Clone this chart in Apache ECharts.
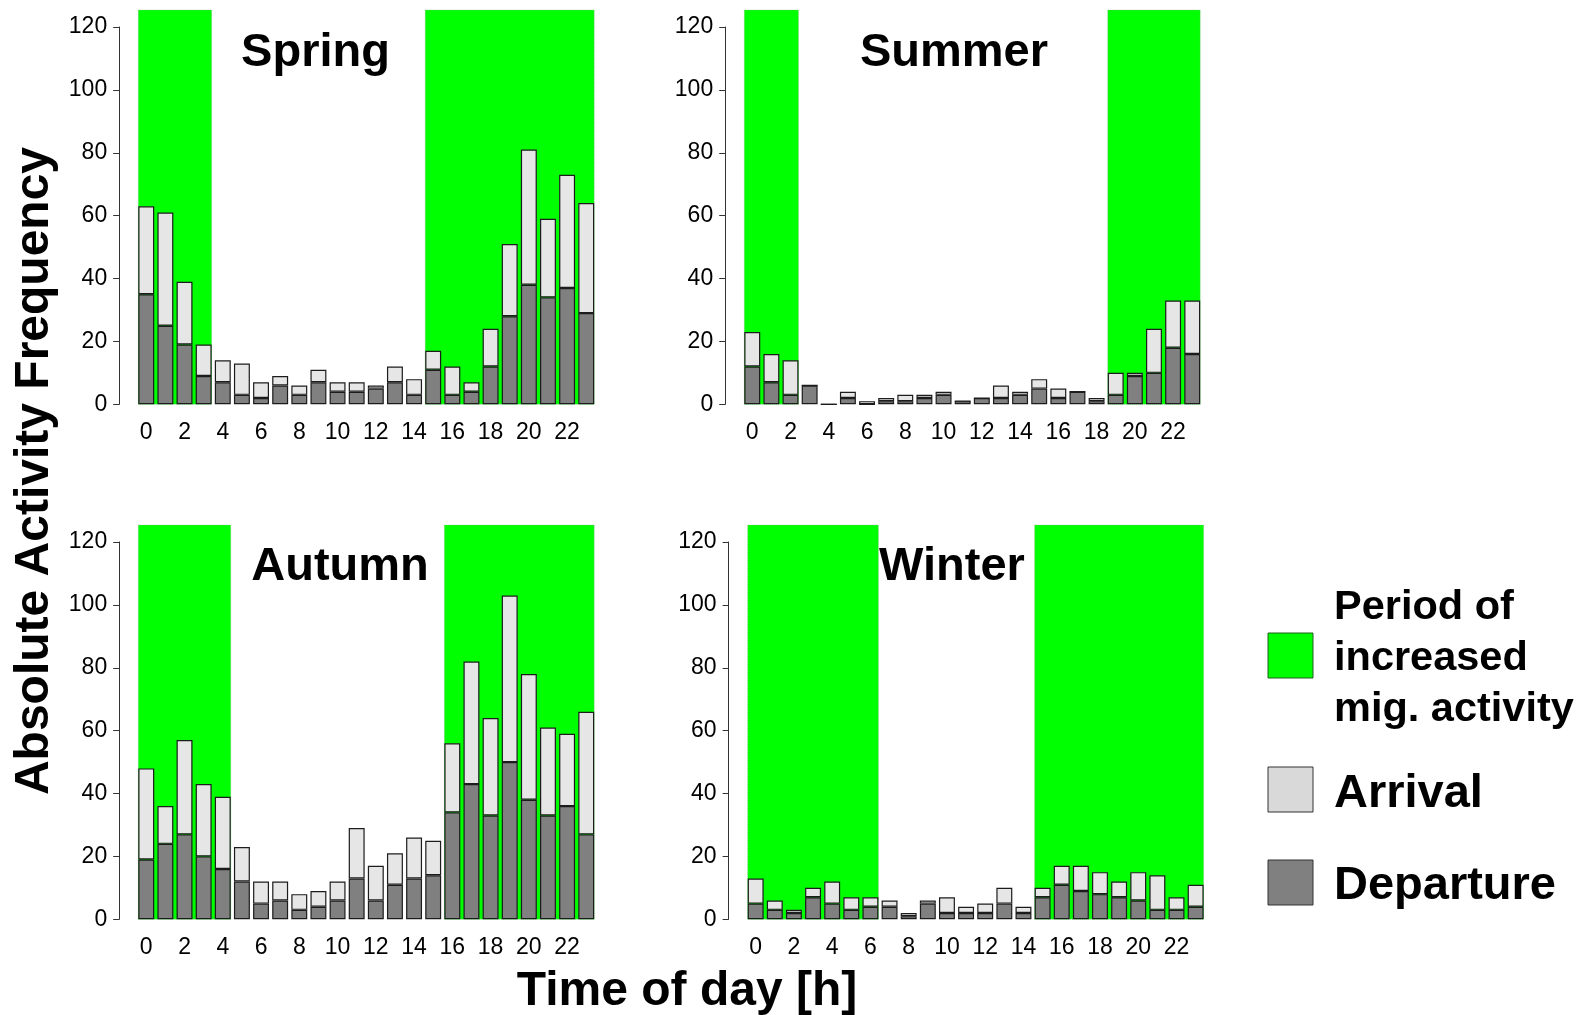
<!DOCTYPE html>
<html>
<head>
<meta charset="utf-8">
<script src="https://cdn.jsdelivr.net/npm/echarts@6/dist/echarts.min.js"></script>
<style>
  html, body { margin: 0; padding: 0; background: #ffffff; }
  #chart { width: 1581px; height: 1015px; }
</style>
</head>
<body>
<div id="chart"></div>
<script>
// ---------- data ----------
const HOURS = ['0','1','2','3','4','5','6','7','8','9','10','11','12','13','14','15','16','17','18','19','20','21','22','23'];
const Y_TICKS = [0, 20, 40, 60, 80, 100, 120];

const springDeparture = [35,25,19,9,7,3,2,6,3,7,4,4,5,7,3,11,3,4,12,28,38,34,37,29];
const springArrival   = [28,36,20,10,7,10,5,3,3,4,3,3,1,5,5,6,9,3,12,23,43,25,36,35];
const springGreen     = [[0,3],[15,23]];

const summerDeparture = [12,7,3,6,0,2,0,1,1,2,3,1,2,2,3,5,2,4,1,3,9,10,18,16];
const summerArrival   = [11,9,11,0,0,2,1,1,2,1,1,0,0,4,1,3,3,0,1,7,1,14,15,17];
const summerGreen     = [[0,2],[19,23]];

const autumnDeparture = [19,24,27,20,16,12,5,6,3,4,6,13,6,11,13,14,34,43,33,50,38,33,36,27];
const autumnArrival   = [29,12,30,23,23,11,7,6,5,5,6,16,11,10,13,11,22,39,31,53,40,28,23,39];
const autumnGreen     = [[0,4],[16,23]];

const winterDeparture = [5,3,2,7,5,3,4,4,1,5,2,2,2,5,2,7,11,9,8,7,6,3,3,4];
const winterArrival   = [8,3,1,3,7,4,3,2,1,1,5,2,3,5,2,3,6,8,7,5,9,11,4,7];
const winterGreen     = [[0,6],[15,23]];

const GREEN_TOP = 125.4;   // top of the shaded period (plot region top)

// ---------- layout / style ----------
const FONT = '"Liberation Sans", Arial, Helvetica, sans-serif';
const BAR_FRAC = 0.833;
const GRID_W = 459.1, GRID_H = 377.3;
const panels = [
  { title: 'Spring', dep: springDeparture, arr: springArrival, green: springGreen, left: 136.7, top: 27.0,  tx: 315.5, ty: 53 },
  { title: 'Summer', dep: summerDeparture, arr: summerArrival, green: summerGreen, left: 742.7, top: 27.0,  tx: 954,   ty: 53 },
  { title: 'Autumn', dep: autumnDeparture, arr: autumnArrival, green: autumnGreen, left: 136.7, top: 542.0, tx: 340,   ty: 567.5 },
  { title: 'Winter', dep: winterDeparture, arr: winterArrival, green: winterGreen, left: 746.1, top: 542.0, tx: 952,   ty: 567.5 }
];

const grids = [], xAxes = [], yAxes = [], series = [], graphics = [];

panels.forEach((p, i) => {
  grids.push({ left: p.left, top: p.top, width: GRID_W, height: GRID_H, containLabel: false });
  xAxes.push({
    gridIndex: i, type: 'category', data: HOURS, boundaryGap: true,
    axisLine: { show: false }, axisTick: { show: false }, splitLine: { show: false },
    axisLabel: { interval: 1, fontSize: 23, color: '#000', margin: 17, fontFamily: FONT }
  });
  yAxes.push({
    gridIndex: i, type: 'value', min: Y_TICKS[0], max: Y_TICKS[Y_TICKS.length - 1], interval: Y_TICKS[1] - Y_TICKS[0],
    offset: 17.5,
    axisLine: { show: true, lineStyle: { color: '#333', width: 1 } },
    axisTick: { show: true, length: 6, inside: false, lineStyle: { color: '#333', width: 1 } },
    axisLabel: { fontSize: 23, color: '#000', margin: 12, fontFamily: FONT },
    splitLine: { show: false }
  });
  // green period shading
  series.push({
    type: 'custom', xAxisIndex: i, yAxisIndex: i, z: 1, silent: true, clip: false,
    data: p.green.map(g => [g[0], g[1], 0, GREEN_TOP]),
    encode: { x: [0, 1], y: [2, 3] },
    renderItem: function (params, api) {
      const a = api.coord([0, 0]), b = api.coord([1, 0]);
      const bw = b[0] - a[0];
      const hw = bw * BAR_FRAC / 2;
      const p0 = api.coord([api.value(0), api.value(2)]);
      const p1 = api.coord([api.value(1), api.value(3)]);
      const x0 = p0[0] - hw, x1 = p1[0] + hw;
      return {
        type: 'rect',
        shape: { x: x0, y: p1[1], width: x1 - x0, height: p0[1] - p1[1] },
        style: { fill: '#00FF00', stroke: '#8fae8f', lineWidth: 0.6, lineDash: [1, 1] }
      };
    }
  });
  series.push({
    type: 'bar', name: 'Departure', stack: 'st' + i, xAxisIndex: i, yAxisIndex: i, z: 2, silent: true,
    barWidth: (BAR_FRAC * 100).toFixed(1) + '%',
    data: p.dep,
    itemStyle: { color: '#808080', borderColor: '#1c1c1c', borderWidth: 1.2 }
  });
  series.push({
    type: 'bar', name: 'Arrival', stack: 'st' + i, xAxisIndex: i, yAxisIndex: i, z: 2, silent: true,
    barWidth: (BAR_FRAC * 100).toFixed(1) + '%',
    data: p.arr,
    itemStyle: { color: '#E6E6E6', borderColor: '#1c1c1c', borderWidth: 1.2 }
  });
  graphics.push({
    type: 'text', z: 10,
    style: { text: p.title, x: p.tx, y: p.ty, align: 'center', verticalAlign: 'middle',
             fontSize: 47, fontWeight: 'bold', fontFamily: FONT, fill: '#000' }
  });
});

// axis titles
graphics.push({
  type: 'text', z: 10, x: 35, y: 471, rotation: Math.PI / 2,
  style: { text: 'Absolute Activity Frequency', x: 0, y: 0, align: 'center', verticalAlign: 'middle',
           fontSize: 48, fontWeight: 'bold', fontFamily: FONT, fill: '#000' }
});
graphics.push({
  type: 'text', z: 10,
  style: { text: 'Time of day [h]', x: 687, y: 992, align: 'center', verticalAlign: 'middle',
           fontSize: 48, fontWeight: 'bold', fontFamily: FONT, fill: '#000' }
});

// legend
const LEG_X = 1268, LEG_S = 45, LEG_TX = 1334;
graphics.push({ type: 'rect', shape: { x: LEG_X, y: 633, width: LEG_S, height: LEG_S },
  style: { fill: '#00FF00', stroke: '#1f5f1f', lineWidth: 1 } });
graphics.push({ type: 'rect', shape: { x: LEG_X, y: 767, width: LEG_S, height: LEG_S },
  style: { fill: '#D9D9D9', stroke: '#333', lineWidth: 1 } });
graphics.push({ type: 'rect', shape: { x: LEG_X, y: 860, width: LEG_S, height: LEG_S },
  style: { fill: '#808080', stroke: '#333', lineWidth: 1 } });
graphics.push({ type: 'text', style: { text: 'Period of\nincreased\nmig. activity', x: LEG_TX, y: 659,
  align: 'left', verticalAlign: 'middle', fontSize: 41.5, lineHeight: 51, fontWeight: 'bold', fontFamily: FONT, fill: '#000' } });
graphics.push({ type: 'text', style: { text: 'Arrival', x: LEG_TX, y: 794,
  align: 'left', verticalAlign: 'middle', fontSize: 47, fontWeight: 'bold', fontFamily: FONT, fill: '#000' } });
graphics.push({ type: 'text', style: { text: 'Departure', x: LEG_TX, y: 886,
  align: 'left', verticalAlign: 'middle', fontSize: 47, fontWeight: 'bold', fontFamily: FONT, fill: '#000' } });

const chart = echarts.init(document.getElementById('chart'), null, { renderer: 'canvas' });
chart.setOption({
  animation: false,
  backgroundColor: '#ffffff',
  textStyle: { fontFamily: FONT },
  grid: grids, xAxis: xAxes, yAxis: yAxes, series: series, graphic: graphics
});
</script>
</body>
</html>
